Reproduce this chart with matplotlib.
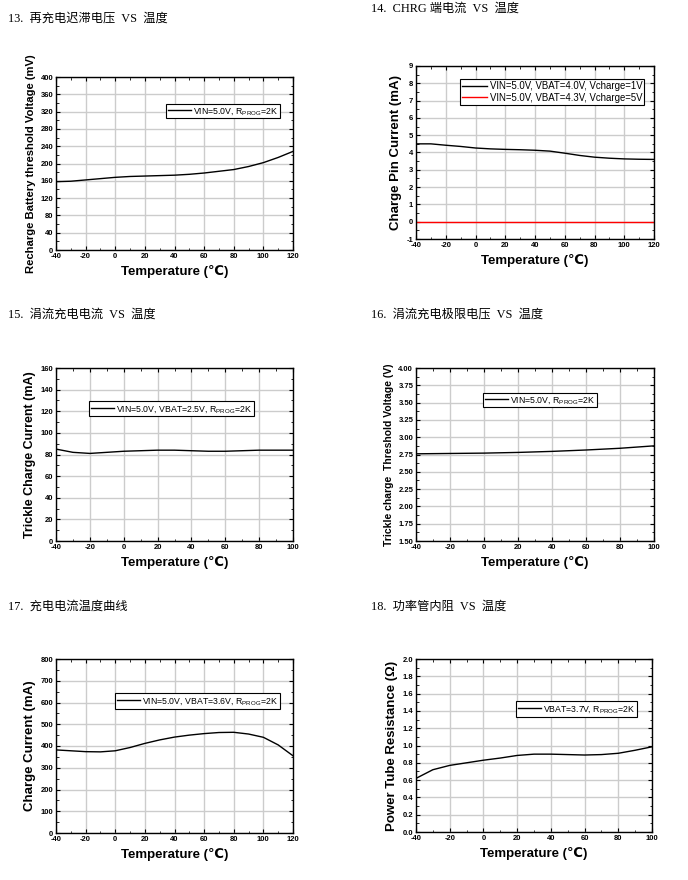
import numpy as np
import matplotlib
matplotlib.use('Agg')
import matplotlib.pyplot as plt
from matplotlib.ticker import MultipleLocator, FormatStrFormatter

plt.rcParams['font.family'] = ['Liberation Sans', 'DejaVu Sans']
plt.rcParams['mathtext.fontset'] = 'custom'
plt.rcParams['mathtext.rm'] = 'Liberation Sans'
plt.rcParams['axes.unicode_minus'] = False

# ---- data ----
t_120 = [-40, -30, -20, -10, 0, 10, 20, 30, 40, 50, 60, 70, 80, 90, 100, 110, 120]
t_100 = [-40, -30, -20, -10, 0, 10, 20, 30, 40, 50, 60, 70, 80, 90, 100]

recharge_mv = [158, 159, 162, 165, 168, 170, 171, 172, 173, 175, 178, 182, 186, 193, 202, 214, 228]

chrg_pin_1v = [4.5, 4.5, 4.42, 4.35, 4.26, 4.21, 4.18, 4.16, 4.13, 4.08, 3.96, 3.83, 3.73, 3.67, 3.63, 3.61, 3.6]
chrg_pin_5v = [0] * 17

trickle_ma = [85, 82, 81, 82, 83, 83.5, 84, 84, 83.5, 83, 83, 83.5, 84, 84, 84]

t_16 = [-40, -20, 0, 20, 40, 60, 80, 100]
trickle_v = [2.76, 2.765, 2.77, 2.78, 2.795, 2.815, 2.84, 2.875]

charge_ma = [382, 378, 374, 373, 378, 393, 412, 428, 441, 450, 457, 462, 463, 455, 440, 405, 355]

rds_ohm = [0.62, 0.72, 0.77, 0.80, 0.83, 0.855, 0.885, 0.90, 0.90, 0.895, 0.89, 0.895, 0.91, 0.945, 0.985]

W, H = 688, 880
fig = plt.figure(figsize=(W / 100, H / 100), dpi=100)


def box(x0, y0, x1, y1):
    return [x0 / W, 1 - y1 / H, (x1 - x0) / W, (y1 - y0) / H]


def setup(ax, xlim, ylim, ystep, ylabel, ysize, fmt=None):
    ax.set_xlim(*xlim)
    ax.set_ylim(*ylim)
    ax.xaxis.set_major_locator(MultipleLocator(20))
    ax.xaxis.set_minor_locator(MultipleLocator(10))
    ax.yaxis.set_major_locator(MultipleLocator(ystep))
    ax.yaxis.set_minor_locator(MultipleLocator(ystep / 2))
    if fmt:
        ax.yaxis.set_major_formatter(FormatStrFormatter(fmt))
    ax.grid(True, which='major', color='#cccccc', lw=1.0)
    ax.set_axisbelow(True)
    ax.tick_params(which='both', direction='in', top=True, right=True,
                   labelsize=5.5, pad=2)
    ax.tick_params(which='major', length=3, width=0.8)
    ax.tick_params(which='minor', length=1.8, width=0.6)
    for lab in ax.get_xticklabels() + ax.get_yticklabels():
        lab.set_fontweight('bold')
    for s in ax.spines.values():
        s.set_linewidth(1.0)
    ax.set_xlabel('Temperature (℃)', fontsize=9.5, fontweight='bold', labelpad=4)
    ax.set_ylabel(ylabel, fontsize=ysize, fontweight='bold', labelpad=3)


def legend(ax, x, y, fs=6.3):
    ax.legend(loc='upper left', bbox_to_anchor=(x / W, 1 - y / H),
              bbox_transform=fig.transFigure, fontsize=fs, frameon=True,
              fancybox=False, edgecolor='black', framealpha=1,
              borderpad=0.2, handlelength=2.6, handletextpad=0.3,
              labelspacing=0.2, borderaxespad=0)
    ax.get_legend().get_frame().set_linewidth(0.8)


title_font = dict(fontsize=8.8, family=['Liberation Serif', 'Noto Sans CJK SC'])

# 13
fig.text(8 / W, 1 - 19 / H, '13.  再充电迟滞电压  VS  温度', va='center', **title_font)
ax1 = fig.add_axes(box(56, 77, 293, 250))
ax1.plot(t_120, recharge_mv, color='black', lw=1,
         label=r'VIN=5.0V, R$_{\mathrm{PROG}}$=2K')
setup(ax1, (-40, 120), (0, 400), 40, 'Recharge Battery threshold Voltage (mV)', 8.1)
legend(ax1, 166, 104)

# 14
fig.text(371 / W, 1 - 9 / H, '14.  CHRG 端电流  VS  温度', va='center', **title_font)
ax2 = fig.add_axes(box(416, 66, 654, 239))
ax2.plot(t_120, chrg_pin_1v, color='black', lw=1,
         label='VIN=5.0V, VBAT=4.0V, Vcharge=1V')
ax2.plot(t_120, chrg_pin_5v, color='red', lw=1,
         label='VIN=5.0V, VBAT=4.3V, Vcharge=5V')
setup(ax2, (-40, 120), (-1, 9), 1, 'Charge Pin Current (mA)', 9.5)
legend(ax2, 460, 79, fs=6.9)

# 15
fig.text(8 / W, 1 - 315 / H, '15.  涓流充电电流  VS  温度', va='center', **title_font)
ax3 = fig.add_axes(box(56, 368, 293, 541))
ax3.plot(t_100, trickle_ma, color='black', lw=1,
         label=r'VIN=5.0V, VBAT=2.5V, R$_{\mathrm{PROG}}$=2K')
setup(ax3, (-40, 100), (0, 160), 20, 'Trickle Charge Current (mA)', 9)
legend(ax3, 89, 401)

# 16
fig.text(371 / W, 1 - 315 / H, '16.  涓流充电极限电压  VS  温度', va='center', **title_font)
ax4 = fig.add_axes(box(416, 368, 654, 541))
ax4.plot(t_16, trickle_v, color='black', lw=1,
         label=r'VIN=5.0V, R$_{\mathrm{PROG}}$=2K')
setup(ax4, (-40, 100), (1.5, 4.0), 0.25, 'Trickle charge  Threshold Voltage (V)', 7.5, '%.2f')
legend(ax4, 483, 393)

# 17
fig.text(8 / W, 1 - 607 / H, '17.  充电电流温度曲线', va='center', **title_font)
ax5 = fig.add_axes(box(56, 659, 293, 833))
ax5.plot(t_120, charge_ma, color='black', lw=1,
         label=r'VIN=5.0V, VBAT=3.6V, R$_{\mathrm{PROG}}$=2K')
setup(ax5, (-40, 120), (0, 800), 100, 'Charge Current (mA)', 9.5)
legend(ax5, 115, 693)

# 18
fig.text(371 / W, 1 - 607 / H, '18.  功率管内阻  VS  温度', va='center', **title_font)
ax6 = fig.add_axes(box(416, 659, 652, 832))
ax6.plot(t_100, rds_ohm, color='black', lw=1,
         label=r'VBAT=3.7V, R$_{\mathrm{PROG}}$=2K')
setup(ax6, (-40, 100), (0, 2.0), 0.2, 'Power Tube Resistance (Ω)', 9.5, '%.1f')
legend(ax6, 516, 701)

fig.savefig('out.png', dpi=100)
